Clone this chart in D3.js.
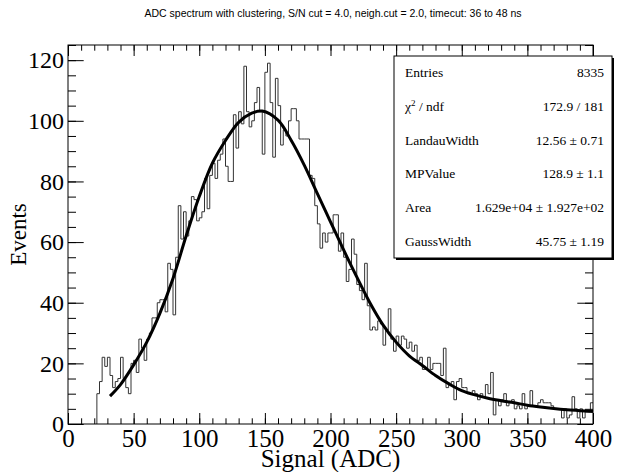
<!DOCTYPE html>
<html>
<head>
<meta charset="utf-8">
<script src="https://cdn.jsdelivr.net/npm/d3@7/dist/d3.min.js"></script>
<style>
  body { margin: 0; background: #fff; }
  text { fill: #000; }
</style>
</head>
<body>
<svg width="627" height="472"></svg>
<script>
// histogram: 2 ADC wide bins, first filled bin starts at 22
var binLow = 22;
var binWidth = 2;
var counts = [
  10, 14, 22, 19, 22, 16, 12, 14, 15, 22,
  15, 12, 10, 20, 21, 17, 28, 25, 21, 28,
  30, 35, 35, 40, 41, 41, 37, 53, 51, 36,
  55, 72, 61, 70, 62, 67, 75, 74, 67, 68,
  70, 81, 71, 82, 86, 81, 87, 89, 94, 85,
  80, 80, 102, 91, 103, 99, 118, 103, 98, 100,
  106, 111, 103, 89, 116, 119, 106, 88, 114, 105,
  92, 97, 95, 100, 104, 104, 100, 94, 94, 94,
  94, 82, 81, 72, 66, 58, 63, 60, 63, 63,
  69, 69, 57, 63, 55, 47, 51, 61, 56, 46,
  44, 41, 53, 39, 31, 32, 31, 34, 33, 26,
  31, 38, 28, 24, 29, 26, 29, 28, 25, 27,
  24, 26, 21, 22, 18, 18, 22, 18, 20, 20,
  20, 16, 25, 12, 13, 14, 8, 14, 15, 12,
  12, 10, 10, 11, 10, 8, 10, 9, 13, 10,
  17, 3, 8, 6, 8, 10, 6, 7, 8, 5,
  6, 5, 10, 5, 6, 11, 6, 6, 7, 8,
  7, 7, 7, 6, 5, 5, 5, 2, 5, 2,
  3, 9, 5, 2, 5, 2, 4, 4, 7
];

// landau x gauss fit
var fitX = [32, 40, 50, 60, 70, 80, 90, 100, 110, 120, 130, 140, 148, 160, 170, 180, 190, 200,
            210, 220, 230, 240, 250, 260, 270, 280, 290, 300, 310, 320, 330, 340, 350, 360, 370, 380, 390, 400];
var fitY = [9.2, 13, 19.5, 27, 36.5, 48, 62, 75, 86, 93.5, 99.5, 102.5, 103.2, 100.2, 93.6, 85.4, 76, 66.7,
            57.4, 48.5, 40, 32.7, 27, 22.5, 19.3, 16, 13.3, 11, 9.6, 8.5, 7.7, 7, 6.2, 5.6, 5.1, 4.7, 4.4, 4.1];

var xTicks = [0, 50, 100, 150, 200, 250, 300, 350, 400];
var yTicks = [0, 20, 40, 60, 80, 100, 120];

var statNames = ["Entries", "chi2", "LandauWidth", "MPValue", "Area", "GaussWidth"];
var statValues = ["8335", "172.9 / 181", "12.56 \u00b1 0.71", "128.9 \u00b1 1.1",
                  "1.629e+04 \u00b1 1.927e+02", "45.75 \u00b1 1.19"];

var serif = "Liberation Serif, Times New Roman, serif";
var svg = d3.select("svg");

var x = d3.scaleLinear().domain([0, 400]).range([68, 593]);
var y = d3.scaleLinear().domain([0, 125]).range([424, 45]);

svg.append("text")
  .attr("x", 333).attr("y", 17)
  .attr("text-anchor", "middle")
  .attr("font-family", "Liberation Sans, Arial, sans-serif")
  .attr("font-size", "10.5px")
  .text("ADC spectrum with clustering, S/N cut = 4.0, neigh.cut = 2.0, timecut: 36 to 48 ns");

// step outline of the histogram
var pts = [[binLow, 0]];
counts.forEach(function(c, i){ pts.push([binLow + i*binWidth, c]); });
pts.push([binLow + counts.length*binWidth, counts[counts.length-1]]);

svg.append("path")
  .datum(pts)
  .attr("fill", "none")
  .attr("stroke", "#333")
  .attr("stroke-width", 1)
  .attr("d", d3.line()
      .x(function(d){ return x(d[0]); })
      .y(function(d){ return y(d[1]); })
      .curve(d3.curveStepAfter));

svg.append("path")
  .datum(fitX.map(function(v, i){ return [v, fitY[i]]; }))
  .attr("fill", "none")
  .attr("stroke", "#000")
  .attr("stroke-width", 3)
  .attr("d", d3.line()
      .x(function(d){ return x(d[0]); })
      .y(function(d){ return y(d[1]); })
      .curve(d3.curveCatmullRom));

// ticks (inside the frame, root style)
function ticks(g){ g.select(".domain").remove(); g.selectAll("line").attr("stroke", "#000"); }

svg.append("g").attr("transform", "translate(0,424)")
  .call(d3.axisBottom(x).tickValues(x.ticks(40)).tickSize(-5.7).tickFormat("")).call(ticks);
var xAxis = svg.append("g").attr("transform", "translate(0,424)")
  .call(d3.axisBottom(x).tickValues(xTicks).tickSize(-11).tickPadding(5)).call(ticks);
svg.append("g").attr("transform", "translate(0,45)")
  .call(d3.axisTop(x).tickValues(x.ticks(40)).tickSize(-5.7).tickFormat("")).call(ticks);
svg.append("g").attr("transform", "translate(0,45)")
  .call(d3.axisTop(x).tickValues(xTicks).tickSize(-11).tickFormat("")).call(ticks);

svg.append("g").attr("transform", "translate(68,0)")
  .call(d3.axisLeft(y).tickValues(y.ticks(25)).tickSize(-8).tickFormat("")).call(ticks);
var yAxis = svg.append("g").attr("transform", "translate(68,0)")
  .call(d3.axisLeft(y).tickValues(yTicks).tickSize(-15.7).tickPadding(4)).call(ticks);
svg.append("g").attr("transform", "translate(593,0)")
  .call(d3.axisRight(y).tickValues(y.ticks(25)).tickSize(-8).tickFormat("")).call(ticks);
svg.append("g").attr("transform", "translate(593,0)")
  .call(d3.axisRight(y).tickValues(yTicks).tickSize(-15.7).tickFormat("")).call(ticks);

xAxis.selectAll(".tick text")
  .attr("font-family", serif)
  .attr("font-size", "25px")
  .attr("fill", "#000");
yAxis.selectAll(".tick text")
  .attr("font-family", serif)
  .attr("font-size", "24px")
  .attr("fill", "#000");

svg.append("rect")
  .attr("x", 68).attr("y", 45)
  .attr("width", 525).attr("height", 379)
  .attr("fill", "none")
  .attr("stroke", "#000")
  .attr("stroke-width", 1);

svg.append("text")
  .attr("x", 330.5).attr("y", 467)
  .attr("text-anchor", "middle")
  .attr("font-family", serif)
  .attr("font-size", "25px")
  .text("Signal (ADC)");

svg.append("text")
  .attr("transform", "translate(26,234.5) rotate(-90)")
  .attr("text-anchor", "middle")
  .attr("font-family", serif)
  .attr("font-size", "23px")
  .text("Events");

// stats box
var bx = 394, by = 56, bw = 218, bh = 202;
svg.append("rect")
  .attr("x", bx + 2).attr("y", by + 2)
  .attr("width", bw).attr("height", bh)
  .attr("fill", "#000");
svg.append("rect")
  .attr("x", bx).attr("y", by)
  .attr("width", bw).attr("height", bh)
  .attr("fill", "#fff")
  .attr("stroke", "#000")
  .attr("stroke-width", 1);

var rowH = bh / statNames.length;
var rows = svg.selectAll("g.stat")
  .data(statNames)
  .enter()
  .append("g").attr("class", "stat")
  .attr("font-family", serif)
  .attr("font-size", "13.5px");

rows.append("text")
  .attr("x", bx + 11)
  .attr("y", function(d, i){ return by + rowH*(i + 0.5) + 4.5; })
  .each(function(d){
    var t = d3.select(this);
    if (d == "chi2") {
      t.append("tspan").text("\u03c7");
      t.append("tspan").attr("font-size", "9px").attr("dy", -5).text("2");
      t.append("tspan").attr("dy", 5).text(" / ndf");
    } else {
      t.text(d);
    }
  });

rows.append("text")
  .attr("x", bx + bw - 8)
  .attr("y", function(d, i){ return by + rowH*(i + 0.5) + 4.5; })
  .attr("text-anchor", "end")
  .text(function(d, i){ return statValues[i]; });
</script>
</body>
</html>
